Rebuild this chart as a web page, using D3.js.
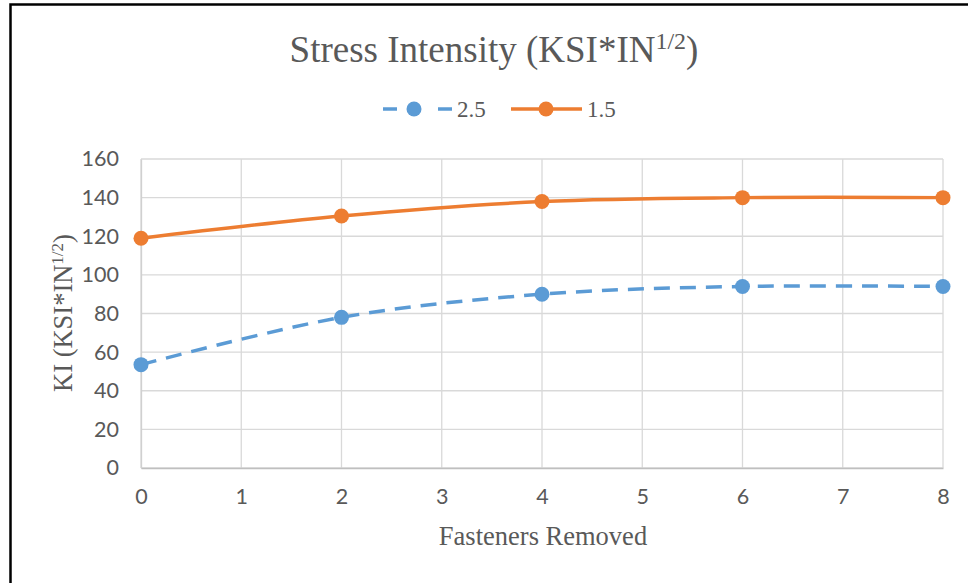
<!DOCTYPE html>
<meta charset="utf-8">
<style>
body { margin: 0; background: #fff; }
.tick text { font-family: Lato, "Open Sans", sans-serif; font-size: 21.5px; fill: #595959; }
.serif { font-family: "Liberation Serif", "Times New Roman", serif; fill: #595959; }
</style>
<html>
<head><title>Stress Intensity</title></head>
<body>
<svg id="chart" width="968" height="583"></svg>
</body>
</html>
<script src="https://d3js.org/d3.v7.min.js"></script>
<script>
// data
var fastenersRemoved = [0, 2, 4, 6, 8];
var series25 = [53.5, 78, 90, 94, 94];
var series15 = [119, 130.5, 138, 140, 140];
var seriesNames = ["2.5", "1.5"];
var xTicks = [0, 1, 2, 3, 4, 5, 6, 7, 8];
var yTicks = [0, 20, 40, 60, 80, 100, 120, 140, 160];

var blue = "#5B9BD5", orange = "#ED7D31";

var svg = d3.select("#chart");

// outer frame (cropped, only top and left visible)
svg.append("rect")
  .attr("x", 10.5).attr("y", 4.5)
  .attr("width", 1000).attr("height", 700)
  .attr("fill", "none").attr("stroke", "#000").attr("stroke-width", 2.5);

var x = d3.scaleLinear().domain([0, 8]).range([141, 943]);
var y = d3.scaleLinear().domain([0, 160]).range([468, 159]);

// grid
svg.append("g").selectAll("line").data(yTicks).enter().append("line")
  .attr("x1", x(0)).attr("x2", x(8))
  .attr("y1", function(d) { return y(d); }).attr("y2", function(d) { return y(d); })
  .attr("stroke", "#d9d9d9").attr("stroke-width", 1.3);
svg.append("g").selectAll("line").data(xTicks).enter().append("line")
  .attr("y1", y(0)).attr("y2", y(160))
  .attr("x1", function(d) { return x(d); }).attr("x2", function(d) { return x(d); })
  .attr("stroke", "#d9d9d9").attr("stroke-width", 1.3);

// axes
var xAxis = svg.append("g").attr("transform", "translate(0," + y(0) + ")")
  .call(d3.axisBottom(x).tickValues(xTicks).tickSize(0).tickPadding(21).tickFormat(d3.format("d")));
xAxis.select(".domain").attr("stroke", "#bfbfbf").attr("stroke-width", 1.5);

var yAxis = svg.append("g").attr("transform", "translate(" + x(0) + ",0)")
  .call(d3.axisLeft(y).tickValues(yTicks).tickSize(0).tickPadding(22));
yAxis.select(".domain").attr("stroke", "#d0d0d0").attr("stroke-width", 1.3);

// lines
var line = d3.line()
  .x(function(d, i) { return x(fastenersRemoved[i]); })
  .y(function(d) { return y(d); })
  .curve(d3.curveCatmullRom.alpha(0.5));

svg.append("path").datum(series25)
  .attr("d", line).attr("fill", "none")
  .attr("stroke", blue).attr("stroke-width", 3.5)
  .attr("stroke-dasharray", "16,10");
svg.append("path").datum(series15)
  .attr("d", line).attr("fill", "none")
  .attr("stroke", orange).attr("stroke-width", 3.5);

svg.append("g").selectAll("circle").data(series25).enter().append("circle")
  .attr("cx", function(d, i) { return x(fastenersRemoved[i]); })
  .attr("cy", function(d) { return y(d); })
  .attr("r", 7.5).attr("fill", blue);
svg.append("g").selectAll("circle").data(series15).enter().append("circle")
  .attr("cx", function(d, i) { return x(fastenersRemoved[i]); })
  .attr("cy", function(d) { return y(d); })
  .attr("r", 7.5).attr("fill", orange);

// title
var title = svg.append("text").attr("class", "serif")
  .attr("x", 494).attr("y", 62).attr("text-anchor", "middle")
  .attr("font-size", "37px");
title.append("tspan").text("Stress Intensity (KSI*IN");
title.append("tspan").attr("font-size", "24px").attr("dy", -13).text("1/2");
title.append("tspan").attr("dy", 13).text(")");

// legend
var lg = svg.append("g").attr("transform", "translate(0,109)");
lg.append("line").attr("x1", 383).attr("x2", 397).attr("y1", 0).attr("y2", 0)
  .attr("stroke", blue).attr("stroke-width", 3.5);
lg.append("line").attr("x1", 438).attr("x2", 452).attr("y1", 0).attr("y2", 0)
  .attr("stroke", blue).attr("stroke-width", 3.5);
lg.append("circle").attr("cx", 414).attr("cy", 0).attr("r", 7.5).attr("fill", blue);
lg.append("text").attr("class", "serif").attr("x", 457).attr("y", 8)
  .attr("font-size", "23px").text(seriesNames[0]);
lg.append("line").attr("x1", 511).attr("x2", 582).attr("y1", 0).attr("y2", 0)
  .attr("stroke", orange).attr("stroke-width", 3.5);
lg.append("circle").attr("cx", 546).attr("cy", 0).attr("r", 7.5).attr("fill", orange);
lg.append("text").attr("class", "serif").attr("x", 587).attr("y", 8)
  .attr("font-size", "23px").text(seriesNames[1]);

// axis titles
svg.append("text").attr("class", "serif")
  .attr("x", 543).attr("y", 545).attr("text-anchor", "middle")
  .attr("font-size", "26.5px").text("Fasteners Removed");

var yt = svg.append("text").attr("class", "serif")
  .attr("transform", "translate(72,313) rotate(-90)")
  .attr("text-anchor", "middle").attr("font-size", "26.5px");
yt.append("tspan").text("KI (KSI*IN");
yt.append("tspan").attr("font-size", "17px").attr("dy", -9).text("1/2");
yt.append("tspan").attr("dy", 9).text(")");
</script>
